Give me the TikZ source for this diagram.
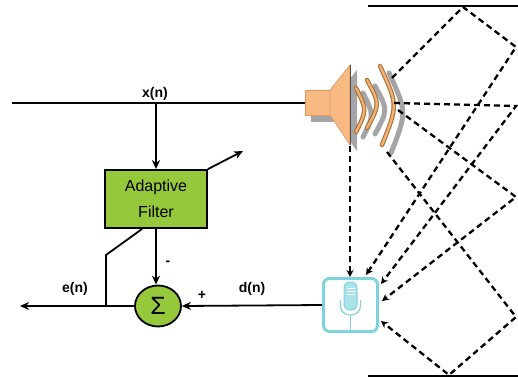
\documentclass[tikz,border=0pt]{standalone}
\usepackage{fontspec}
\setmainfont{Liberation Sans}
\usetikzlibrary{arrows.meta,shapes.geometric}
\definecolor{filtgreen}{RGB}{150,200,60}
\definecolor{spkorange}{RGB}{248,186,130}
\definecolor{spkedge}{RGB}{225,150,90}
\definecolor{arcdark}{RGB}{175,112,55}
\definecolor{arclight}{RGB}{238,180,120}
\definecolor{shadowgray}{RGB}{165,165,168}
\definecolor{miccyan}{RGB}{130,210,222}
\definecolor{micfill}{RGB}{170,226,234}
\tikzset{
  sig/.style={line width=1.8pt,-{Stealth[length=9pt,width=8pt]}},
  wire/.style={line width=1.8pt},
  ray/.style={line width=2.3pt,dash pattern=on 6pt off 4pt,
              -{Stealth[length=7pt,width=7pt]}},
  wall/.style={line width=1.8pt},
  filtbox/.style={draw,line width=1.8pt,fill=filtgreen,minimum width=102pt,
                  minimum height=58pt,align=center,font=\fontsize{16}{26}\selectfont},
  sumnode/.style={ellipse,draw,line width=1.8pt,fill=filtgreen,minimum width=46pt,
                  minimum height=41pt,inner sep=0pt,font=\fontsize{25}{25}\selectfont},
  micbox/.style={draw=miccyan,line width=3pt,fill=white,rounded corners=6pt,
                 minimum width=54pt,minimum height=53pt},
  lbl/.style={font=\bfseries\fontsize{14}{14}\selectfont},
  wave/.style={line width=4.5pt,arcdark,line cap=round},
  wavein/.style={line width=2.2pt,arclight,line cap=round},
  waveshadow/.style={line width=5pt,shadowgray,line cap=round}
}
\begin{document}
\begin{tikzpicture}[x=1pt,y=-1pt]
\useasboundingbox (0,0) rectangle (518,377);

% room walls
\draw[wall] (368,6) -- (518,6);
\draw[wall] (368,376) -- (518,376);

% loudspeaker: drop shadows first
\fill[shadowgray] (311,96) rectangle (336,122);
\fill[shadowgray] (336,96) -- (357,70) -- (357,151) -- (336,122) -- cycle;
\filldraw[fill=spkorange,draw=spkedge,line width=0.6pt] (305,90) rectangle (330,115);
\filldraw[fill=spkorange,draw=spkedge,line width=0.6pt]
  (330,90) -- (350,65) -- (350,145) -- (330,115) -- cycle;
\draw[line width=1pt,black!70] (350,65) -- (350,145);
% sound waves with their shadows
\draw[waveshadow] (363,93) .. controls (374,115) .. (363,137);
\draw[waveshadow] (375,86) .. controls (388,110) .. (375,134);
\draw[waveshadow] (389,73) .. controls (407,112) .. (391,153);
\draw[wave] (356,88) .. controls (367,110) .. (356,132);
\draw[wavein] (356,88) .. controls (367,110) .. (356,132);
\draw[wave] (367,80) .. controls (380,104) .. (367,128);
\draw[wavein] (367,80) .. controls (380,104) .. (367,128);
\draw[wave] (380,66) .. controls (398,105) .. (382,145);
\draw[wavein] (380,66) .. controls (398,105) .. (382,145);

% microphone
\node[micbox] (mic) at (350.5,305) {};
\begin{scope}[shift={(mic.center)}]
  \draw[miccyan,line width=1.2pt] (-10,-5) -- (-10,1) .. controls (-10,13) and (10,13) .. (10,1) -- (10,-5);
  \draw[miccyan,line width=1.4pt] (0,10) -- (0,26);
  \draw[miccyan,line width=1.4pt] (-5,26) -- (5,26);
  \filldraw[fill=micfill,draw=miccyan,line width=1pt,rounded corners=6pt]
    (-6.5,-23) rectangle (6.5,5);
  \draw[white,line width=0.6pt] (-4,-17) -- (4,-17) (-4,-14) -- (4,-14) (-4,-11) -- (4,-11);
\end{scope}

% signal blocks
\node[filtbox] (af) at (156,199) {Adaptive\\Filter};
\node[sumnode] (sum) at (158,306) {Σ};

% connection points
\coordinate (xin) at (12,103);
\coordinate (spk) at (305,103);
\coordinate (tap) at (156,103);
\coordinate (eout) at (20,306);
\coordinate (fbk) at (106,306);
\coordinate (fbbend) at (106,255);
\coordinate (fbtop) at (142,229);
\coordinate (adj) at (243,151);

% signal paths
\draw[wire] (xin) -- (spk);
\draw[sig] (tap) -- (af.north);
\draw[sig] (af.south) -- (af.south |- sum.north);
\draw[sig] (mic.west) -- (sum.east);
\draw[sig] (sum.west) -- (eout);
\draw[wire] (fbk) -- (fbbend) -- (fbtop);
\draw[sig] (af.north east) -- (adj);

% labels
\node[lbl] (lx) at (155,94) {x(n)};
\node[lbl] (le) at (75,289) {e(n)};
\node[lbl] (ld) at (252,289) {d(n)};
\node[lbl] (lminus) at (168,263) {-};
\node[lbl] (lplus) at (202,295) {+};

% acoustic paths from loudspeaker to microphone
\coordinate (s0) at (350,146);
\coordinate (s1) at (392,78);
\coordinate (s2) at (394,103);
\coordinate (s3) at (398,110);
\coordinate (s4) at (387,152);
\coordinate (r1a) at (463,7);
\coordinate (r1b) at (516,47);
\coordinate (r2) at (516,106);
\coordinate (r3) at (516,197);
\coordinate (r4a) at (516,317);
\coordinate (r4b) at (449,375);
\draw[ray] (s0) -- (mic.north -| s0);
\draw[ray] (s1) -- (r1a) -- (r1b) -- (366,275);
\draw[ray] (s2) -- (r2) -- (381,284);
\draw[ray] (s3) -- (r3) -- (382,301);
\draw[ray] (s4) -- (r4a) -- (r4b) -- (381,321);
\end{tikzpicture}
\end{document}
